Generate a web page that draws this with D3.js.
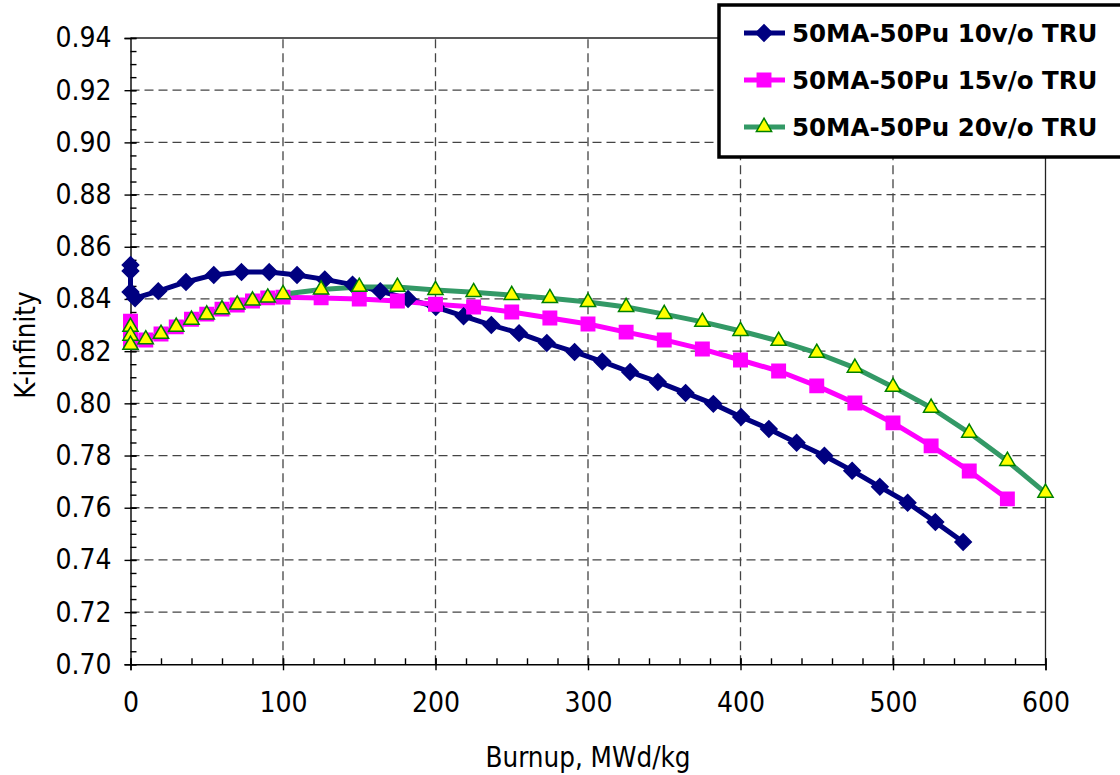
<!DOCTYPE html>
<meta charset="utf-8">
<style>
body { margin: 0; background: #fff; }
svg { display: block; }
text { font-family: "DejaVu Sans Condensed", "Liberation Sans", sans-serif; fill: #000; }
.grid line { stroke: #444; stroke-width: 1.3; stroke-dasharray: 9,5; }
.legend text { font-family: "DejaVu Sans", Verdana, sans-serif; font-size: 24.5px; font-weight: bold; }
</style>
<svg width="1120" height="775"></svg>
<script src="https://cdn.jsdelivr.net/npm/d3@7"></script>
<script>

// series: 50MA-50Pu fuel, burnup (MWd/kg) vs k-infinity
var tru10X = [0, 0, 0, 3, 18.2, 36.4, 54.6, 72.8, 91, 109.2, 127.4, 145.6, 163.8, 182, 200.2,
  218.4, 236.6, 254.8, 273, 291.2, 309.4, 327.6, 345.8, 364, 382.2, 400.4, 418.6, 436.8,
  455, 473.2, 491.4, 509.6, 527.8, 546];
var tru10Y = [0.8530, 0.8507, 0.8427, 0.8403, 0.8430, 0.8465, 0.8492, 0.8503, 0.8503, 0.8492,
  0.8475, 0.8455, 0.8430, 0.8400, 0.8369, 0.8334, 0.8300, 0.8269, 0.8231, 0.8197, 0.8160,
  0.8120, 0.8082, 0.8040, 0.7998, 0.7948, 0.7902, 0.7849, 0.7799, 0.7742, 0.7680, 0.7619,
  0.7545, 0.7469];

var tru15X = [0, 0, 0, 10, 20, 30, 40, 50, 60, 70, 80, 90, 100, 125, 150, 175, 200, 225, 250,
  275, 300, 325, 350, 375, 400, 425, 450, 475, 500, 525, 550, 575];
var tru15Y = [0.8315, 0.8275, 0.8235, 0.8243, 0.8266, 0.8293, 0.8322, 0.8342, 0.8361, 0.8377,
  0.8392, 0.8404, 0.8407, 0.8404, 0.8400, 0.8392, 0.8380, 0.8369, 0.8350, 0.8327, 0.8304,
  0.8273, 0.8243, 0.8208, 0.8166, 0.8124, 0.8067, 0.8001, 0.7925, 0.7837, 0.7741, 0.7634];

var tru20X = [0, 0, 0, 10, 20, 30, 40, 50, 60, 70, 80, 90, 100, 125, 150, 175, 200, 225, 250,
  275, 300, 325, 350, 375, 400, 425, 450, 475, 500, 525, 550, 575, 600];
var tru20Y = [0.8293, 0.8259, 0.8224, 0.8245, 0.8266, 0.8293, 0.8320, 0.8340, 0.8360, 0.8378,
  0.8394, 0.8405, 0.8418, 0.8436, 0.8446, 0.8446, 0.8434, 0.8426, 0.8415, 0.8403, 0.8388,
  0.8369, 0.8342, 0.8312, 0.8277, 0.8239, 0.8193, 0.8136, 0.8063, 0.7983, 0.7887, 0.7779,
  0.7657];

var seriesNames = ["50MA-50Pu 10v/o TRU", "50MA-50Pu 15v/o TRU", "50MA-50Pu 20v/o TRU"];
var xTicks = [0, 100, 200, 300, 400, 500, 600];
var yTicks = [0.70, 0.72, 0.74, 0.76, 0.78, 0.80, 0.82, 0.84, 0.86, 0.88, 0.90, 0.92, 0.94];

var svg = d3.select("svg");
svg.append("rect").attr("width", 1120).attr("height", 775).attr("fill", "#fff");

var x = d3.scaleLinear().domain([0, 600]).range([130.5, 1045.5]);
var y = d3.scaleLinear().domain([0.70, 0.94]).range([664.3, 38]);

// dashed gridlines
var grid = svg.append("g").attr("class", "grid");
grid.selectAll(".h").data(yTicks.slice(1, -1)).enter().append("line")
    .attr("x1", x(0)).attr("x2", x(600))
    .attr("y1", d => y(d)).attr("y2", d => y(d));
grid.selectAll(".v").data(xTicks.slice(1, -1)).enter().append("line")
    .attr("y1", y(0.70)).attr("y2", y(0.94))
    .attr("x1", d => x(d)).attr("x2", d => x(d));

// top and right frame
svg.append("path")
    .attr("d", "M" + x(0) + "," + y(0.94) + "H" + x(600) + "V" + y(0.70))
    .attr("fill", "none").attr("stroke", "#222").attr("stroke-width", 1.3);

// axes
var xAxis = svg.append("g").attr("transform", "translate(0," + y(0.70) + ")")
    .call(d3.axisBottom(x).tickValues(xTicks).tickSize(6).tickPadding(22).tickFormat(d3.format("d")));
xAxis.selectAll(".tick line").attr("y1", -6);
svg.append("g").attr("transform", "translate(0," + y(0.70) + ")")
    .call(d3.axisTop(x).tickValues(d3.range(0, 601, 20)).tickSize(6).tickFormat(""))
    .select(".domain").remove();

var yAxis = svg.append("g").attr("transform", "translate(" + x(0) + ",0)")
    .call(d3.axisLeft(y).tickValues(yTicks).tickSize(6).tickPadding(13).tickFormat(d3.format(".2f")));
yAxis.selectAll(".tick line").attr("x1", 6);
svg.append("g").attr("transform", "translate(" + x(0) + ",0)")
    .call(d3.axisRight(y).tickValues(d3.range(0, 49).map(i => 0.70 + i * 0.005)).tickSize(6).tickFormat(""))
    .select(".domain").remove();

svg.selectAll(".domain, .tick line").attr("stroke", "#000").attr("stroke-width", 1.4);
svg.selectAll(".tick text").attr("fill", "#000")
    .style("font-family", "'DejaVu Sans Condensed', 'Liberation Sans', sans-serif")
    .style("font-size", "28px");

// axis titles
svg.append("text").attr("x", 588).attr("y", 767).attr("text-anchor", "middle")
    .style("font-size", "27.5px").text("Burnup, MWd/kg");
svg.append("text").attr("transform", "translate(35,345) rotate(-90)").attr("text-anchor", "middle")
    .style("font-size", "27.5px").text("K-infinity");

// series
var line = d3.line().x(d => x(d[0])).y(d => y(d[1]));
var diamond = d3.symbol().type(d3.symbolDiamond2).size(170);
var square = d3.symbol().type(d3.symbolSquare).size(180);
var triangle = d3.symbol().type(d3.symbolTriangle).size(100);

var styles = [
  { xs: tru10X, ys: tru10Y, color: "#000080", sym: diamond, fill: "#000080", stroke: "#000080" },
  { xs: tru15X, ys: tru15Y, color: "#ff00ff", sym: square, fill: "#ff00ff", stroke: "#ff00ff" },
  { xs: tru20X, ys: tru20Y, color: "#339966", sym: triangle, fill: "#ffff00", stroke: "#008000" }
];

styles.forEach(function(s) {
  var pts = s.xs.map((v, i) => [v, s.ys[i]]);
  svg.append("path").datum(pts).attr("d", line)
      .attr("fill", "none").attr("stroke", s.color).attr("stroke-width", 5)
      .attr("stroke-linejoin", "round");
});
styles.forEach(function(s) {
  var pts = s.xs.map((v, i) => [v, s.ys[i]]);
  svg.append("g").selectAll("path").data(pts).enter().append("path")
      .attr("d", s.sym)
      .attr("transform", d => "translate(" + x(d[0]) + "," + y(d[1]) + ")")
      .attr("fill", s.fill).attr("stroke", s.stroke).attr("stroke-width", 1.5);
});

// legend
var legend = svg.append("g").attr("class", "legend");
legend.append("rect").attr("x", 719).attr("y", 5).attr("width", 420).attr("height", 152)
    .attr("fill", "#fff").attr("stroke", "#000").attr("stroke-width", 3.5);
styles.forEach(function(s, i) {
  var cy = 33 + i * 47;
  legend.append("line").attr("x1", 744).attr("x2", 785).attr("y1", cy).attr("y2", cy)
      .attr("stroke", s.color).attr("stroke-width", 5);
  legend.append("path").attr("d", s.sym).attr("transform", "translate(764," + cy + ")")
      .attr("fill", s.fill).attr("stroke", s.stroke).attr("stroke-width", 1.5);
  legend.append("text").attr("x", 792).attr("y", cy + 9).text(seriesNames[i]);
});

</script>
